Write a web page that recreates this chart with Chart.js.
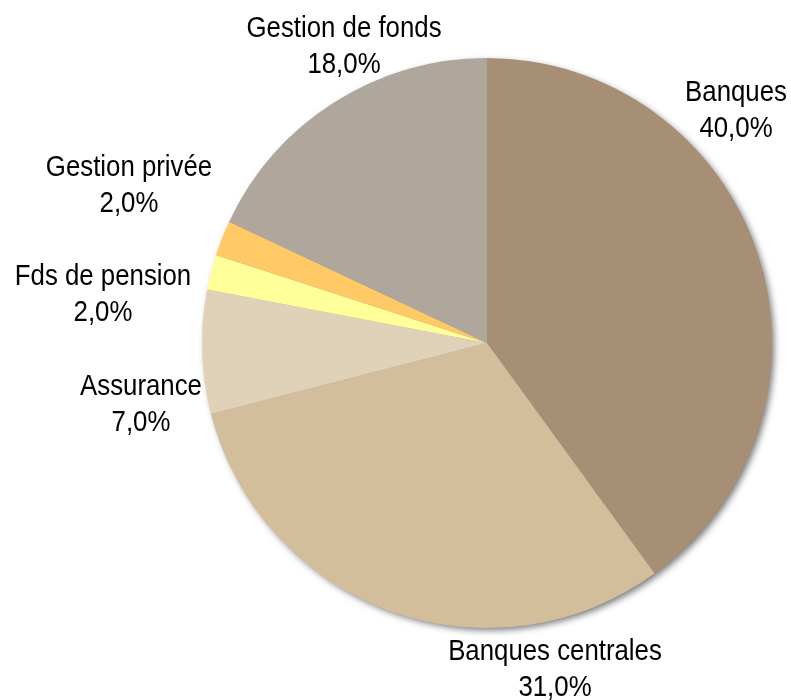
<!DOCTYPE html>
<html>
<head>
<meta charset="utf-8">
<script src="https://cdn.jsdelivr.net/npm/chart.js@4/dist/chart.umd.min.js"></script>
<style>
    html, body { margin: 0; padding: 0; background: #fff; }
    #wrap { width: 791px; height: 700px; position: relative; }
</style>
</head>
<body>
<div id="wrap"><canvas id="pie"></canvas></div>
<script>
    var categories = ['Banques', 'Banques centrales', 'Assurance', 'Fds de pension', 'Gestion privée', 'Gestion de fonds'];
    var shares = [40, 31, 7, 2, 2, 18];
    var sliceColors = ['#A68F75', '#D3BE9B', '#DFD2B9', '#FFFF99', '#FFC966', '#AFA69C'];

    // where Excel put each two-line label (centre x, first baseline)
    var labelSpots = [[736, 101], [555, 660], [141, 395], [103, 285], [129, 176], [344, 37]];

    function pct(v) {
        return v.toFixed(1).replace('.', ',') + '%';
    }

    var shadowPlugin = {
        id: 'pieShadow',
        beforeDatasetsDraw: function (chart) {
            var arc = chart.getDatasetMeta(0).data[0];
            if (!arc) return;
            var ctx = chart.ctx;
            ctx.save();
            ctx.shadowColor = 'rgba(0,0,0,0.55)';
            ctx.shadowBlur = 7;
            ctx.shadowOffsetX = 3;
            ctx.shadowOffsetY = 3;
            ctx.fillStyle = '#999';
            ctx.beginPath();
            ctx.arc(arc.x, arc.y, arc.outerRadius - 1, 0, Math.PI * 2);
            ctx.fill();
            ctx.restore();
        }
    };

    var labelPlugin = {
        id: 'outsideLabels',
        afterDatasetsDraw: function (chart) {
            var ctx = chart.ctx;
            var values = chart.data.datasets[0].data;
            ctx.save();
            ctx.fillStyle = '#000';
            ctx.font = '30px "Liberation Sans", Arial, sans-serif';
            ctx.textAlign = 'center';
            ctx.textBaseline = 'alphabetic';
            chart.data.labels.forEach(function (name, i) {
                var spot = labelSpots[i];
                var lines = [name, pct(values[i])];
                lines.forEach(function (txt, j) {
                    ctx.save();
                    ctx.translate(spot[0], spot[1] + j * 36);
                    ctx.scale(0.86, 1);
                    ctx.fillText(txt, 0, 0);
                    ctx.restore();
                });
            });
            ctx.restore();
        }
    };

    new Chart(document.getElementById('pie'), {
        type: 'pie',
        data: {
            labels: categories,
            datasets: [{
                data: shares,
                backgroundColor: sliceColors,
                borderWidth: 0
            }]
        },
        options: {
            responsive: true,
            maintainAspectRatio: false,
            animation: false,
            layout: { padding: { left: 202, right: 19, top: 58, bottom: 72 } },
            plugins: {
                legend: { display: false },
                tooltip: { enabled: false }
            }
        },
        plugins: [shadowPlugin, labelPlugin]
    });
</script>
</body>
</html>
